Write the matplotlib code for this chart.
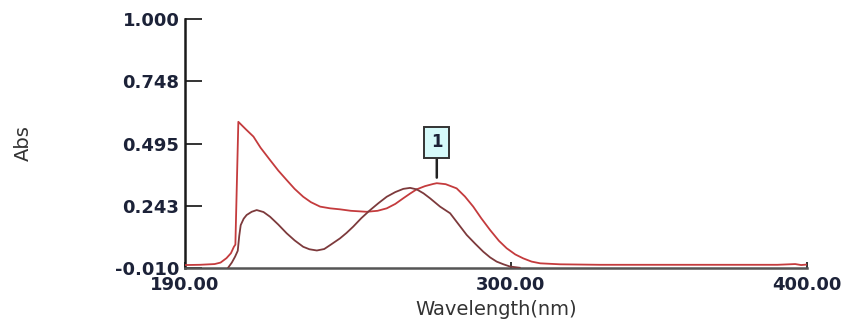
import numpy as np
import matplotlib
matplotlib.use("Agg")
import matplotlib.pyplot as plt

# --- Spectra (wavelength in nm, absorbance) ---
wl_1 = [190, 195, 200, 202, 204, 205.5, 206.5, 207.0, 208.0, 210.5,
        213.1, 215.5, 218.7, 221.5, 224.3, 227, 229.9, 232.5, 235.6, 239.0,
        242.3, 246, 251.3, 255, 258.1, 261, 263.7, 266, 268.2, 271,
        273.8, 275.0, 278, 281.7, 284.5, 287.3, 290, 293.0, 296, 298.6,
        301.5, 304.2, 307, 309.9, 316.6, 330, 360, 390, 396, 398, 400]
abs_1 = [0.002, 0.003, 0.006, 0.012, 0.030, 0.050, 0.076, 0.085, 0.583, 0.553,
         0.523, 0.478, 0.428, 0.385, 0.347, 0.311, 0.279, 0.257, 0.239, 0.232,
         0.228, 0.222, 0.218, 0.222, 0.232, 0.250, 0.273, 0.292, 0.309, 0.322,
         0.331, 0.334, 0.330, 0.313, 0.280, 0.239, 0.192, 0.144, 0.100, 0.070,
         0.045, 0.029, 0.016, 0.009, 0.005, 0.003, 0.003, 0.003, 0.006, 0.002, 0.004]

wl_2 = [204.6, 205.8, 206.9, 207.8, 208.3, 208.8, 209.8, 210.8, 212.5, 214.2,
        216.5, 218.7, 221.5, 224.3, 227, 229.9, 232, 234.5, 237, 239.0,
        242.3, 244.5, 246.8, 249.5, 252.5, 255.3, 258.1, 261, 263.7, 266,
        268.2, 270.5, 272.7, 276.1, 279.5, 282.3, 285.1, 288, 290.7, 293,
        295.2, 297.5, 299.7, 303]
abs_2 = [-0.008, 0.012, 0.036, 0.06, 0.12, 0.164, 0.190, 0.205, 0.218, 0.225,
         0.217, 0.198, 0.166, 0.131, 0.102, 0.076, 0.066, 0.061, 0.067, 0.083,
         0.110, 0.132, 0.158, 0.192, 0.225, 0.253, 0.279, 0.298, 0.311, 0.315,
         0.309, 0.293, 0.273, 0.239, 0.212, 0.168, 0.124, 0.088, 0.056, 0.033,
         0.016, 0.005, -0.004, -0.009]

y_ticks = [-0.010, 0.243, 0.495, 0.748, 1.000]
x_ticks = [190, 300, 400]
peak_label = "1"

label_color = "#1c2238"

fig = plt.figure(figsize=(8.59, 3.2), dpi=100)
ax = fig.add_axes([0.2154, 0.1625, 0.7241, 0.7781])

ax.plot(wl_1, abs_1, color="#c43b3d", lw=1.3, zorder=3)
ax.plot(wl_2, abs_2, color="#7d3a3c", lw=1.3, zorder=4)

# peak marker for the second band of spectrum 1
wl_arr = np.array(wl_1)
ab_arr = np.array(abs_1)
band = wl_arr > 250
i_pk = np.argmax(ab_arr[band])
pk_x, pk_y = wl_arr[band][i_pk], ab_arr[band][i_pk]
ax.annotate(peak_label, xy=(pk_x, pk_y), xytext=(0, 29.5), textcoords="offset points",
            ha="center", va="center", fontsize=12, fontweight="bold", color=label_color,
            bbox=dict(boxstyle="square,pad=0.4", fc="#d6fafa", ec="#333333", lw=1.4),
            arrowprops=dict(arrowstyle="-", color="#222222", lw=1.8,
                            shrinkA=0, shrinkB=4), zorder=5)

ax.set_xlim(190, 400)
ax.set_ylim(-0.010, 1.000)

for side in ("top", "right"):
    ax.spines[side].set_visible(False)
ax.spines["left"].set_color("#1a1a1a")
ax.spines["left"].set_linewidth(1.8)
ax.spines["bottom"].set_color("#555555")
ax.spines["bottom"].set_linewidth(1.8)

ax.set_yticks(y_ticks)
ax.set_yticklabels([f"{v:.3f}" for v in y_ticks])
ax.set_xticks(x_ticks)
ax.set_xticklabels([f"{v:.2f}" for v in x_ticks])

ax.tick_params(axis="y", direction="in", length=12.5, width=1.4, color="#333333",
               pad=4, labelsize=13, labelcolor=label_color)
ax.tick_params(axis="x", direction="in", length=4, width=1.4, color="#333333",
               pad=6, labelsize=13, labelcolor=label_color)
for lbl in ax.get_xticklabels() + ax.get_yticklabels():
    lbl.set_fontweight("bold")

ax.set_xlabel("Wavelength(nm)", fontsize=14, color="#333333", labelpad=4)
ax.set_ylabel("Abs", fontsize=14, color="#333333")
ax.yaxis.set_label_coords(-0.244, 0.5)

fig.savefig("out.png", dpi=100)
